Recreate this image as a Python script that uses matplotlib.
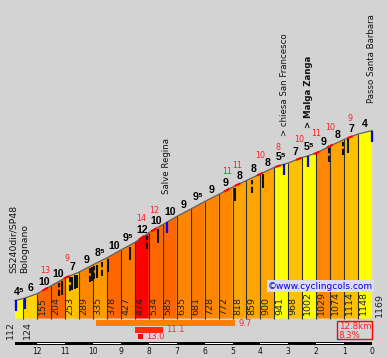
import numpy as np
import matplotlib.pyplot as plt

# climb profile: km to the summit and altitude (m) at each point
km = [12.8, 12.5, 12.0, 11.5, 11.0, 10.5, 10.0, 9.5, 9.0, 8.5, 8.0, 7.5, 7.0, 6.5,
      6.0, 5.5, 5.0, 4.5, 4.0, 3.5, 3.0, 2.5, 2.0, 1.5, 1.0, 0.5, 0.0]
alt = [112, 124, 155, 204, 253, 289, 335, 378, 427, 474, 534, 585, 635, 681,
       728, 772, 818, 859, 900, 941, 968, 1002, 1029, 1074, 1114, 1148, 1169]
# average gradient of each segment (as labelled)
grade = [4.5, 6, 10, 10, 7, 9, 8.5, 10, 9.5, 12, 10, 10, 9, 9.5,
         9, 9, 8, 8, 8, 5.5, 7, 5.5, 9, 8, 7, 4]

# steepest local bits (red numbers)
steep_km = [11.72, 10.94, 8.26, 7.82, 5.21, 4.82, 4.02, 3.37, 2.62, 1.99, 1.51, 0.79]
steep_val = [13, 9, 14, 12, 11, 11, 10, 8, 10, 11, 10, 9]

# hairpins (black) and flat spots (blue)
hairpin_km = [11.205, 11.126, 10.829, 10.746, 10.649, 10.589, 10.112, 10.051, 9.968,
              9.872, 9.692, 9.456, 8.678, 8.069, 7.675, 4.915, 4.306, 3.922,
              1.546, 1.033, 0.854]
hairpin_dashed = [True, False, True, False, False, False, True, False, True, False,
                  True, False, False, True, False, False, True, False, True, True, False]
flat_km = [12.75, 12.44, 7.36, 3.16, 2.30, 0.0]

places = ["SS240dir/SP48\nBolognano", "Salve Regina", "> chiesa San Francesco",
          "> Malga Zanga", "Passo Santa Barbara"]
place_km = [12.8, 7.36, 3.12, 2.29, 0.0]
place_bold = [False, False, False, True, False]

# steepest 5 km / 1 km / 200 m
best_start = [9.9, 8.5, 8.4]
best_end = [4.9, 7.5, 8.2]
best_val = [9.7, 11.1, 13.0]
best_col = ['#ff7f00', '#ff2a00', '#ff0000']

km_ticks = list(range(13))
white_km = [12, 10, 8, 6, 4, 2]


def grade_color(g):
    pts = [4, 5.5, 6, 7, 8, 8.5, 9, 9.5, 10, 12]
    gs = [255, 255, 212, 192, 165, 155, 135, 120, 102, 0]
    return (1.0, np.interp(g, pts, gs) / 255, 0.0)


def sup(g):
    if g % 1:
        return f"{int(g)}\u2075"
    return f"{int(g)}"


def height_at(k):
    return np.interp(k, km[::-1], alt[::-1])


bg = '#d3d3d3'
fig = plt.figure(figsize=(3.88, 3.58), dpi=100, facecolor=bg)
ax = fig.add_axes([0, 0, 1, 1])
ax.set_facecolor(bg)
ax.set_xlim(13.338, -0.574)
ax.set_ylim(-245.8, 1982)
ax.axis('off')

bold = dict(family=['Liberation Sans', 'DejaVu Sans'], weight='bold', fontsize=7.6)

for i, g in enumerate(grade):
    ax.fill([km[i], km[i], km[i + 1], km[i + 1]], [0, alt[i], alt[i + 1], 0],
            color=grade_color(g), lw=0)
ax.vlines(km[1:-1], 0, alt[1:-1], color='#303030', lw=0.8)
ax.plot(km, alt, color='#606060', lw=0.9)

# red steep bits on the outline
for k in steep_km:
    xs = np.linspace(k + 0.1, k - 0.1, 5)
    ax.plot(xs, height_at(xs), color='#ff0000', lw=1.5, solid_capstyle='butt')

for k, d in zip(hairpin_km, hairpin_dashed):
    a = height_at(k)
    ax.vlines(k, a - 95, a - 10, color='#111111', lw=1.5,
              linestyles=(0, (3, 1.2)) if d else 'solid')
for k in flat_km:
    a = height_at(k)
    ax.vlines(k, a - 68, a, color='#0000ff', lw=1.6)

# gradient labels
for i, g in enumerate(grade):
    xm = (km[i] + km[i + 1]) / 2
    am = (alt[i] + alt[i + 1]) / 2
    ax.annotate(sup(g), (xm, am), xytext=(0, 5), textcoords='offset pixels',
                ha='center', va='baseline', color='black', **bold)

for k, v in zip(steep_km, steep_val):
    ax.annotate(str(v), (k, height_at(k)), xytext=(0, 19), textcoords='offset pixels',
                ha='center', va='center', color='#ff2020', fontsize=5.8)

# altitude labels
for i in range(2, len(alt) - 1):
    ax.annotate(str(alt[i]), (km[i], 0), xytext=(5, 4), textcoords='offset pixels',
                rotation=90, ha='center', va='bottom', fontsize=6.8, color='#222222')
for i, dx in [(0, -5), (1, 4)]:
    ax.annotate(str(alt[i]), (km[i], 0), xytext=(dx, -2), textcoords='offset pixels',
                rotation=90, ha='center', va='top', fontsize=6.8, color='#222222')
ax.annotate(str(alt[-1]), (km[-1], 0), xytext=(7, 2), textcoords='offset pixels',
            rotation=90, ha='center', va='bottom', fontsize=6.8, color='#222222')

# place names
for name, k, b in zip(places, place_km, place_bold):
    two = '\n' in name
    ax.annotate(name, (k, height_at(k)), xytext=(4 if two else 0, 28),
                textcoords='offset pixels', rotation=90, ha='center', va='bottom',
                fontsize=6.7 if two else 6.2, weight='bold' if b else 'normal',
                linespacing=1.3, multialignment='left', color='#111111')

ax.text(3.73, 202, "\u00a9www.cyclingcols.com", color='#0000ee', fontsize=6.5,
        ha='left', va='center',
        bbox=dict(boxstyle='square,pad=0.12', fc='#dcdcee', ec='none'))

# steepest sections bars
rows = [(-9, -47), (-53, -90), (-96, -128)]
for (s, e, v, c), (y0, y1) in zip(zip(best_start, best_end, best_val, best_col), rows):
    ax.fill_between([s, e], y1, y0, color=c, lw=0)
    ax.annotate(f"{v:.1f}", (e, (y0 + y1) / 2), xytext=(3, 0), textcoords='offset pixels',
                ha='left', va='center', fontsize=6, color='#e8303a')

# summary box
total = km[0] - km[-1]
avg = (alt[-1] - alt[0]) / (total * 10)
ax.add_patch(plt.Rectangle((0, -128), 1.255, 112, fill=False, ec='#ff0000', lw=1))
ax.text(1.19, -20, f"{total:.1f}km\n{avg:.1f}%", color='#ff2020', fontsize=6.2,
        ha='left', va='top', linespacing=1.05)

# km scale
ax.fill_between([km[0], 0], -163, -144, color='black', lw=0)
for k in white_km:
    ax.fill_between([k, k - 1], -157, -150, color='white', lw=0)
for k in km_ticks:
    ax.text(k, -208, str(k), ha='center', va='center', fontsize=5.5, color='#111111')

fig.savefig('out.png', dpi=100, facecolor=bg)
